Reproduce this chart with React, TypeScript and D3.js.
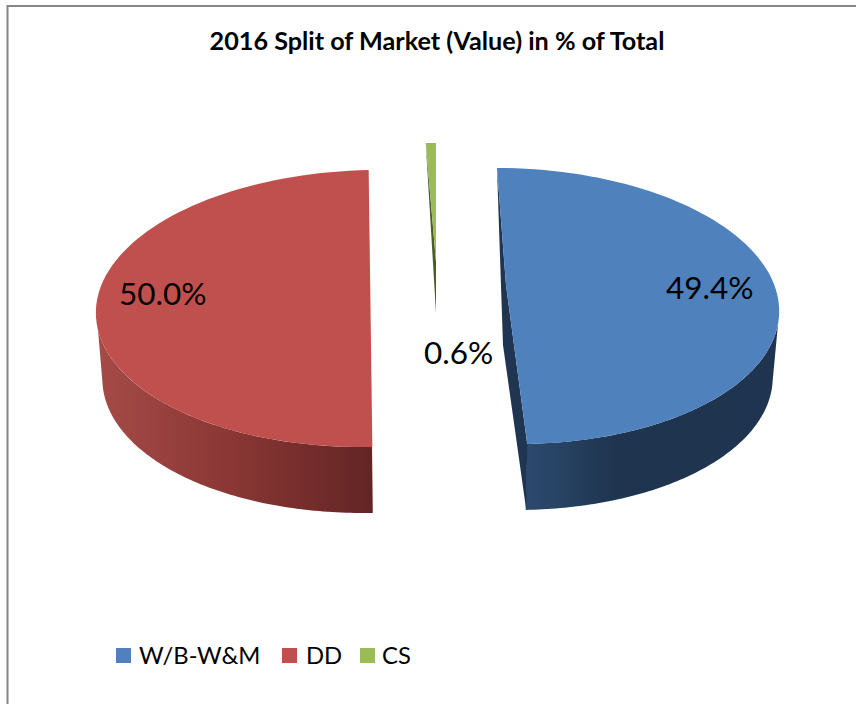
import React from "react";
import * as d3 from "d3";

const categories = ["W/B-W&M", "DD", "CS"];
const shares = [49.4, 50.0, 0.6];
const shareLabels = ["49.4%", "50.0%", "0.6%"];
const faceColors = ["#4f81bd", "#c0504d", "#9bbb59"];
const sideColors = ["#1f3551", "#8a3735", "#4b5c2a"];
const titleText = "2016 Split of Market (Value) in % of Total";

// geometry of each exploded slice on the page
const sliceCx = [507, 370.5, 436];
const sliceCy = [306, 308.5, 281];
const sliceRx = [272, 274.5, 272];
const sliceRy = [138, 138.5, 138];
const sliceSkew = [10, -8.5, 0];
const sliceApex: [number, number][] = [[506, 285], [370.2, 285], [436, 262]];
const sideBend: ([number, number] | null)[] = [[503, 345], null, [436, 313]];
const wallShift = [-1, 1, 0];
const wallUpper: ([number, number] | null)[] = [[Math.PI * 0.54, Math.PI * 0.9884], [Math.PI * 0.9884, Math.PI * 1.45], null];
const wallLower: ([number, number] | null)[] = [[Math.PI * 0.52, Math.PI * 0.9884], [Math.PI * 0.9884, Math.PI * 1.471], null];
const wallDepth = 66;
const wallScale = 0.98;

const labelX = [666, 119, 424];
const labelY = [299, 305, 364];
const legendSwatchX = [116, 282, 360];
const legendTextX = [139, 306, 382];

const line = d3.line<[number, number]>().x((d) => d[0]).y((d) => d[1]);

function rim(i: number, a0: number, a1: number, scale = 1, dx = 0, dy = 0): [number, number][] {
  const n = 90;
  const t = d3.scaleLinear().domain([0, n]).range([a0, a1]);
  return d3.range(n + 1).map((k) => {
    const a = t(k);
    const u = Math.sin(a);
    const v = -Math.cos(a);
    return [
      sliceCx[i] + dx + sliceRx[i] * scale * u + sliceSkew[i] * v,
      sliceCy[i] + dy + sliceRy[i] * v,
    ] as [number, number];
  });
}

export default function App() {
  const arcs = d3.pie<number>().sort(null)(shares);
  const font = "Lato, Carlito, sans-serif";
  return (
    <svg
      width={856}
      height={704}
      style={{ position: "absolute", left: 0, top: 0, background: "#fff" }}
      fontFamily={font}
    >
      <defs>
        <linearGradient id="wall0" gradientUnits="userSpaceOnUse" x1={527} x2={779} y1={0} y2={0}>
          <stop offset="0" stopColor="#2b4a6f" />
          <stop offset="0.36" stopColor="#1f344e" />
          <stop offset="1" stopColor="#1e3450" />
        </linearGradient>
        <linearGradient id="wall1" gradientUnits="userSpaceOnUse" x1={96} x2={373} y1={0} y2={0}>
          <stop offset="0" stopColor="#a54b47" />
          <stop offset="0.5" stopColor="#893634" />
          <stop offset="1" stopColor="#622524" />
        </linearGradient>
      </defs>
      <path d="M7.5 704V6H856" fill="none" stroke="#868686" strokeWidth={2} />
      <text x={437} y={50} textAnchor="middle" fontSize={25.2} fontWeight={700} fill="#000">
        {titleText}
      </text>
      {arcs.map((arc, i) => {
        const top = rim(i, arc.startAngle, arc.endAngle);
        const up = wallUpper[i];
        const low = wallLower[i];
        let wall: string | null = null;
        if (up && low) {
          const upper = rim(i, up[0], up[1]);
          const lower = rim(i, low[0], low[1], wallScale, wallShift[i], wallDepth).reverse();
          wall = line([...upper, ...lower]) + "Z";
        }
        const bend = sideBend[i];
        let side: string | null = null;
        if (i === 0 && bend) {
          const end = top[top.length - 1];
          const start = top[0];
          side = line([start, bend, [end[0] - 1, end[1] + wallDepth], end, sliceApex[i]]) + "Z";
        }
        if (i === 2 && bend) {
          side = line([top[0], bend, sliceApex[i]]) + "Z";
        }
        const face = line([sliceApex[i], ...top]) + "Z";
        return (
          <g key={categories[i]}>
            {wall && <path d={wall} fill={`url(#wall${i})`} />}
            {side && <path d={side} fill={sideColors[i]} />}
            <path d={face} fill={faceColors[i]} />
          </g>
        );
      })}
      {shareLabels.map((s, i) => (
        <text key={s} x={labelX[i]} y={labelY[i]} fontSize={31.5} fill="#000">
          {s}
        </text>
      ))}
      {categories.map((c, i) => (
        <g key={c}>
          <rect x={legendSwatchX[i]} y={648} width={15} height={15} fill={faceColors[i]} />
          <text x={legendTextX[i]} y={664} fontSize={23.8} fill="#000">
            {c}
          </text>
        </g>
      ))}
    </svg>
  );
}
